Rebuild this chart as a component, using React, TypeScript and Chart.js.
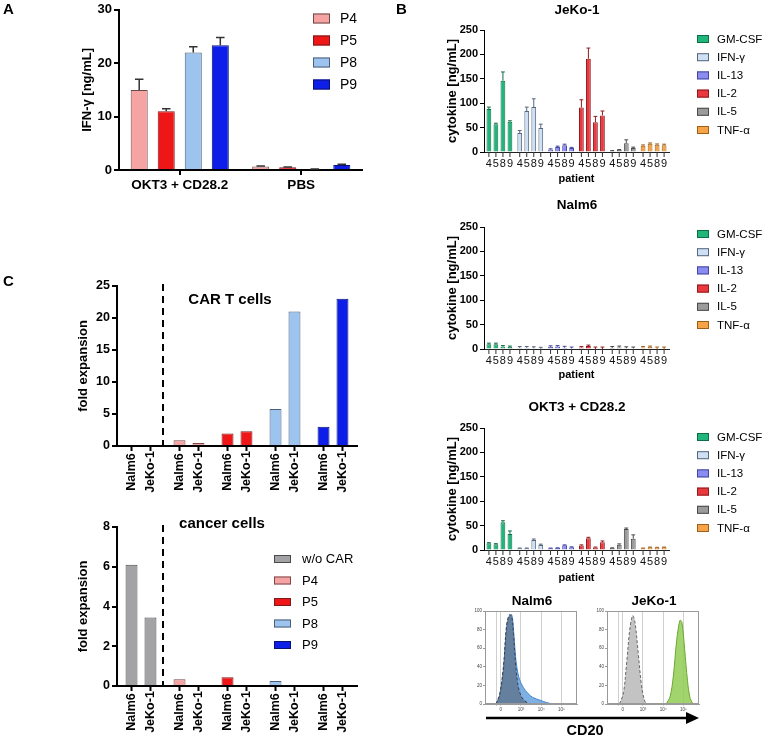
import React, { useEffect, useRef } from 'react';
import { Chart, registerables } from 'chart.js';
Chart.register(...registerables);

const FONT = "'Liberation Sans', Arial, Helvetica, sans-serif";

// ---------------- Panel A data ----------------
const aConditions = ['OKT3 + CD28.2', 'PBS'];
const aPatients = ['P4', 'P5', 'P8', 'P9'];
const aP4 = [15.0, 0.65];
const aP5 = [11.0, 0.5];
const aP8 = [22.0, 0.15];
const aP9 = [23.35, 0.95];
const aP4Err = [2.0, 0.1];
const aP5Err = [0.45, 0.08];
const aP8Err = [1.1, 0.05];
const aP9Err = [1.45, 0.15];

// ---------------- Panel B data ----------------
const cytokines = ['GM-CSF', 'IFN-γ', 'IL-13', 'IL-2', 'IL-5', 'TNF-α'];
const patientDigits = ['4', '5', '8', '9'];

const jekoP4 = [88, 39, 5, 91, 2, 13];
const jekoP5 = [57, 84, 10, 191, 4, 17];
const jekoP8 = [146, 92, 14, 61, 18, 15];
const jekoP9 = [62, 49, 8, 75, 8, 14];
const jekoP4Err = [4, 5, 1.5, 16, 1, 1.5];
const jekoP5Err = [2, 8, 2, 22, 1, 1.5];
const jekoP8Err = [18, 17, 2, 12, 7, 1.5];
const jekoP9Err = [2, 8, 1.5, 9, 2, 2];

const nalmP4 = [9.5, 2, 4.5, 3, 2, 3];
const nalmP5 = [9.5, 2, 5, 6, 3, 4];
const nalmP8 = [5, 1.5, 2.5, 0, 1.5, 0];
const nalmP9 = [4, 0.5, 1, 0, 1, 0];
const nalmP4Err = [2.5, 3, 2, 2, 3, 2];
const nalmP5Err = [2.5, 3, 2, 2, 3, 2];
const nalmP8Err = [2, 3, 3, 4, 3, 4];
const nalmP9Err = [2, 3, 3, 4, 3, 4];

const okt3P4 = [14, 3.5, 3.5, 9, 4, 3.5];
const okt3P5 = [12, 3.5, 4, 24, 11, 5.5];
const okt3P8 = [57, 20.5, 9.5, 5, 43, 5];
const okt3P9 = [33, 10, 5.5, 16, 23, 5.5];
const okt3P4Err = [1, 0.5, 0.5, 1.5, 0.5, 0.5];
const okt3P5Err = [1, 0.5, 0.5, 2, 1.5, 0.5];
const okt3P8Err = [3, 2, 1, 1, 2, 0.5];
const okt3P9Err = [6, 2, 1, 2.5, 8, 0.5];

// ---------------- Panel C data ----------------
const cGroups = ['w/o CAR', 'P4', 'P5', 'P8', 'P9'];
const cCellLines = ['Nalm6', 'JeKo-1'];
const carNalm6 = [0, 0.9, 1.95, 5.8, 3.0];
const carJeko = [0.15, 0.47, 2.3, 21.0, 23.0];
const cancerNalm6 = [6.1, 0.34, 0.44, 0.25, 0];
const cancerJeko = [3.45, 0, 0, 0, 0];

// ---------------- Flow histograms (CD20) ----------------
const histXTicks = [13, 17, 39, 61, 83];
const histXLabels = ['', '0', '10³', '10⁴', '10⁵'];
const nalmIsoX = [12, 16, 20, 23.5, 26.5, 29, 31, 33.5, 37, 41.5, 47, 52];
const nalmIsoY = [0, 11, 40, 85, 96, 94, 75, 40, 15, 5, 1, 0];
const nalmCd20X = [12, 16, 20, 23.5, 26.5, 29, 31, 33.5, 37, 41.5, 47, 52, 60, 67, 74];
const nalmCd20Y = [0, 9, 36, 82, 94, 96, 80, 48, 28, 18, 11, 7, 4, 1.5, 0];
const jekoIsoX = [13.6, 17.9, 21.4, 25, 27.9, 30.4, 33.9, 37.5, 41, 43.6];
const jekoIsoY = [0, 12, 45, 82, 95, 88, 55, 20, 3, 0];
const jekoCd20X = [64.3, 68.6, 72.1, 75.7, 79.3, 81.4, 84.3, 87.5, 90.4, 93.6];
const jekoCd20Y = [0, 8, 30, 68, 90, 88, 60, 25, 6, 0];

// ---------------- styles ----------------
const patientFill = ['#f6a3a3', '#ee1616', '#9dc3ef', '#0d1ee8'];
const patientStroke = ['#6b4a4a', '#7a1a1a', '#4d5f78', '#0a1070'];
const cytoFill = ['#20b57b', '#cfe0f4', '#8b8cf2', '#e9383e', '#9b9b9b', '#f7a347'];
const cytoStroke = ['#0d6e46', '#56677d', '#45469e', '#8e1b1f', '#4a4a4a', '#9e5f17'];
const groupFill = ['#a3a3a6', '#f6a3a3', '#ee1616', '#9dc3ef', '#0d1ee8'];
const groupStroke = ['#4a4a4a', '#7a4a4a', '#7a1a1a', '#4d5f78', '#0a1070'];

// ---------------- plugins ----------------
const errorBarsPlugin: any = {
  id: 'errorBars',
  afterDatasetsDraw(chart: any, _a: any, o: any) {
    if (!o || !o.enabled) return;
    const ctx = chart.ctx;
    const ys = chart.scales.y;
    chart.data.datasets.forEach((ds: any, i: number) => {
      const errs = ds.errors;
      if (!errs) return;
      const meta = chart.getDatasetMeta(i);
      meta.data.forEach((bar: any, j: number) => {
        const v = ds.data[j];
        const e = errs[j];
        if (e == null) return;
        const top = ys.getPixelForValue(v + e);
        const base = ys.getPixelForValue(v);
        const w = bar.width * o.capRatio;
        const col = o.color || (Array.isArray(ds.borderColor) ? ds.borderColor[j] : ds.borderColor);
        ctx.save();
        ctx.strokeStyle = col;
        ctx.lineWidth = o.lineWidth;
        ctx.beginPath();
        ctx.moveTo(bar.x, base);
        ctx.lineTo(bar.x, top);
        ctx.moveTo(bar.x - w / 2, top);
        ctx.lineTo(bar.x + w / 2, top);
        ctx.stroke();
        ctx.restore();
      });
    });
  },
};

const barTicksPlugin: any = {
  id: 'barTicks',
  afterDraw(chart: any, _a: any, o: any) {
    if (!o || !o.labels) return;
    const ctx = chart.ctx;
    const bottom = chart.chartArea.bottom;
    chart.data.datasets.forEach((_ds: any, i: number) => {
      const meta = chart.getDatasetMeta(i);
      meta.data.forEach((bar: any) => {
        ctx.save();
        ctx.strokeStyle = o.tickColor;
        ctx.lineWidth = o.tickWidth;
        ctx.beginPath();
        ctx.moveTo(bar.x, bottom);
        ctx.lineTo(bar.x, bottom + o.tickLength);
        ctx.stroke();
        ctx.fillStyle = o.color;
        ctx.font = o.font;
        ctx.textAlign = 'center';
        ctx.textBaseline = 'middle';
        if (o.rotate) {
          ctx.translate(bar.x, bottom + o.offset);
          ctx.rotate(-Math.PI / 2);
          ctx.fillText(o.labels[i], 0, 0);
        } else {
          ctx.fillText(o.labels[i], bar.x, bottom + o.offset);
        }
        ctx.restore();
      });
    });
  },
};

const boxLegendPlugin: any = {
  id: 'boxLegend',
  afterDraw(chart: any, _a: any, o: any) {
    if (!o || !o.items) return;
    const ctx = chart.ctx;
    const n = o.items.length;
    for (let k = 0; k < n; k++) {
      const it = o.items[k];
      const cy = o.y + k * o.spacing;
      ctx.save();
      ctx.fillStyle = it.fill;
      ctx.fillRect(o.x, cy - o.boxH / 2, o.boxW, o.boxH);
      ctx.strokeStyle = it.stroke;
      ctx.lineWidth = 1;
      ctx.strokeRect(o.x + 0.5, cy - o.boxH / 2 + 0.5, o.boxW - 1, o.boxH - 1);
      ctx.fillStyle = '#000';
      ctx.font = o.font;
      ctx.textAlign = 'left';
      ctx.textBaseline = 'middle';
      ctx.fillText(it.text, o.textX, cy + 0.5);
      ctx.restore();
    }
  },
};

const textsPlugin: any = {
  id: 'texts',
  afterDraw(chart: any, _a: any, o: any) {
    if (!o || !o.items) return;
    const ctx = chart.ctx;
    const n = o.items.length;
    for (let k = 0; k < n; k++) {
      const t = o.items[k];
      ctx.save();
      ctx.font = t.font;
      ctx.fillStyle = '#000';
      ctx.textAlign = 'center';
      ctx.textBaseline = 'middle';
      ctx.fillText(t.text, t.x, t.y);
      ctx.restore();
    }
  },
};

const dividerPlugin: any = {
  id: 'divider',
  afterDraw(chart: any, _a: any, o: any) {
    if (!o || o.after == null) return;
    const xs = chart.scales.x;
    const px = (xs.getPixelForValue(o.after) + xs.getPixelForValue(o.after + 1)) / 2 - 2;
    const ctx = chart.ctx;
    ctx.save();
    ctx.strokeStyle = '#000';
    ctx.lineWidth = 2;
    ctx.setLineDash([7, 5]);
    ctx.beginPath();
    ctx.moveTo(px, chart.chartArea.top - 2);
    ctx.lineTo(px, chart.chartArea.bottom);
    ctx.stroke();
    ctx.restore();
  },
};

const framePlugin: any = {
  id: 'frame',
  afterDraw(chart: any) {
    const { left, top, right, bottom } = chart.chartArea;
    const ctx = chart.ctx;
    ctx.save();
    ctx.strokeStyle = '#9a9a9a';
    ctx.lineWidth = 1;
    ctx.strokeRect(left + 0.5, top + 0.5, right - left - 1, bottom - top - 1);
    ctx.restore();
  },
};

// ---------------- helpers ----------------
function font(size: number, bold = true) {
  return { family: FONT, size, weight: bold ? 'bold' : 'normal' } as any;
}
function fontStr(size: number, bold = true) {
  return `${bold ? 'bold ' : ''}${size}px ${FONT}`;
}

function yAxis(min: number, max: number, step: number, title: string, titleCenter: number, width: number, tickSize: number, lw: number, tickLen: number) {
  return {
    min,
    max,
    ticks: { stepSize: step, font: font(tickSize), color: '#000', padding: 2 },
    grid: { drawOnChartArea: false, drawTicks: true, tickLength: tickLen, color: '#000', lineWidth: lw },
    border: { display: true, color: '#000', width: lw },
    title: { display: true, text: title, font: font(13), color: '#000', padding: { top: titleCenter - 7.8, bottom: 0 } },
    afterFit: (s: any) => { s.width = width; },
  };
}

const baseOptions = { responsive: false, animation: false, devicePixelRatio: 1, maintainAspectRatio: false };

// ---------------- configs ----------------
function configA() {
  const vals = [aP4, aP5, aP8, aP9];
  const errs = [aP4Err, aP5Err, aP8Err, aP9Err];
  return {
    type: 'bar',
    data: {
      labels: aConditions,
      datasets: aPatients.map((p, i) => ({
        label: p, data: vals[i], errors: errs[i],
        backgroundColor: patientFill[i], borderColor: patientStroke[i], borderWidth: 1,
        categoryPercentage: 0.89, barPercentage: 0.63,
      })),
    },
    options: {
      ...baseOptions,
      layout: { padding: { left: 0, right: 22, top: 9, bottom: 0 } },
      plugins: {
        legend: { display: false }, tooltip: { enabled: false },
        errorBars: { enabled: true, capRatio: 0.5, lineWidth: 1.5, color: '#333' },
        boxLegend: {
          x: 313, y: 18.5, spacing: 22, boxW: 17, boxH: 10, textX: 340, font: fontStr(14, false),
          items: aPatients.map((p, i) => ({ text: p, fill: patientFill[i], stroke: patientStroke[i] })),
        },
      },
      scales: {
        x: {
          ticks: { font: font(13.5), color: '#000', padding: 2 },
          grid: { offset: false, drawOnChartArea: false, drawTicks: true, tickLength: 5, color: '#000', lineWidth: 2 },
          border: { display: true, color: '#000', width: 2 },
          afterFit: (s: any) => { s.height = 25; },
        },
        y: yAxis(0, 30, 10, 'IFN-γ [ng/mL]', 87, 119, 13, 2, 5),
      },
    },
    plugins: [errorBarsPlugin, boxLegendPlugin],
  };
}

function configB(title: string, vals: number[][], errs: number[][], padTop: number, xHeight: number, titleY: number, legendY: number) {
  return {
    type: 'bar',
    data: {
      labels: cytokines,
      datasets: patientDigits.map((p, i) => ({
        label: p, data: vals[i], errors: errs[i],
        backgroundColor: cytoFill, borderColor: cytoStroke, borderWidth: 1,
        categoryPercentage: 0.91, barPercentage: 0.68,
      })),
    },
    options: {
      ...baseOptions,
      layout: { padding: { left: 0, right: 99, top: padTop, bottom: 0 } },
      plugins: {
        legend: { display: false }, tooltip: { enabled: false },
        errorBars: { enabled: true, capRatio: 0.8, lineWidth: 1 },
        barTicks: { labels: patientDigits, tickLength: 5, tickWidth: 1, tickColor: '#333', color: '#111', font: fontStr(11, false), offset: 12, rotate: false },
        boxLegend: {
          x: 313, y: legendY, spacing: 18.2, boxW: 12, boxH: 8, textX: 333, font: fontStr(11.5, false),
          items: cytokines.map((c, i) => ({ text: c, fill: cytoFill[i], stroke: cytoStroke[i] })),
        },
        texts: { items: [{ text: title, x: 193, y: titleY, font: fontStr(13.5) }] },
      },
      scales: {
        x: {
          ticks: { display: false },
          grid: { display: false },
          border: { display: true, color: '#222', width: 1 },
          title: { display: true, text: 'patient', font: font(11), color: '#000', padding: { top: 0, bottom: 3.4 } },
          afterFit: (s: any) => { s.height = xHeight; },
        },
        y: yAxis(0, 250, 50, 'cytokine [ng/mL]', 68, 100, 11, 1, 4),
      },
    },
    plugins: [errorBarsPlugin, barTicksPlugin, boxLegendPlugin, textsPlugin],
  };
}

function configC(vals: number[][], max: number, step: number, padTop: number, xHeight: number, title: string, titleX: number, titleY: number, withLegend: boolean) {
  return {
    type: 'bar',
    data: {
      labels: cGroups,
      datasets: cCellLines.map((c, i) => ({
        label: c, data: vals[i],
        backgroundColor: groupFill, borderColor: groupStroke, borderWidth: 1,
        categoryPercentage: 0.79, barPercentage: 0.63,
      })),
    },
    options: {
      ...baseOptions,
      layout: { padding: { left: 0, right: 27, top: padTop, bottom: 0 } },
      plugins: {
        legend: { display: false }, tooltip: { enabled: false },
        barTicks: { labels: cCellLines, tickLength: 5, tickWidth: 2, tickColor: '#000', color: '#000', font: fontStr(12.5), offset: 26, rotate: true },
        divider: { after: 0 },
        texts: { items: [{ text: title, x: titleX, y: titleY, font: fontStr(15) }] },
        boxLegend: withLegend ? {
          x: 274, y: 54, spacing: 21.5, boxW: 17, boxH: 8, textX: 302, font: fontStr(13, false),
          items: cGroups.map((g, i) => ({ text: g, fill: groupFill[i], stroke: groupStroke[i] })),
        } : {},
      },
      scales: {
        x: {
          ticks: { display: false },
          grid: { display: false },
          border: { display: true, color: '#000', width: 2 },
          afterFit: (s: any) => { s.height = xHeight; },
        },
        y: yAxis(0, max, step, 'fold expansion', 83, 117, 12.5, 2, 5),
      },
    },
    plugins: [barTicksPlugin, dividerPlugin, textsPlugin, boxLegendPlugin],
  };
}

function configHist(title: string, series: any[]) {
  return {
    type: 'line',
    data: {
      datasets: series.map((s) => ({
        data: s.x.map((x: number, i: number) => ({ x, y: s.y[i] })),
        fill: 'origin', backgroundColor: s.fill, borderColor: s.stroke, borderWidth: 1,
        borderDash: s.dash, pointRadius: 0, tension: 0.35,
      })),
    },
    options: {
      ...baseOptions,
      layout: { padding: { left: 0, right: 8, top: 19, bottom: 0 } },
      plugins: {
        legend: { display: false }, tooltip: { enabled: false },
        texts: { items: [{ text: title, x: 72, y: 9, font: fontStr(13.5) }] },
      },
      scales: {
        x: {
          type: 'linear', min: 0, max: 100,
          afterBuildTicks: (s: any) => { s.ticks = histXTicks.map((v) => ({ value: v })); },
          ticks: { callback: (_v: any, i: number) => histXLabels[i], font: { family: FONT, size: 4.5 }, color: '#444', padding: 1, maxRotation: 0, autoSkip: false },
          grid: { color: '#c4c4c4', lineWidth: 0.8, drawTicks: true, tickLength: 2 },
          border: { display: true, color: '#9a9a9a' },
          afterFit: (s: any) => { s.height = 13; },
        },
        y: {
          min: 0, max: 100,
          ticks: { stepSize: 20, font: { family: FONT, size: 4.5 }, color: '#444', padding: 1 },
          grid: { drawOnChartArea: false, drawTicks: true, tickLength: 2, color: '#9a9a9a' },
          border: { display: true, color: '#9a9a9a' },
          afterFit: (s: any) => { s.width = 25; },
        },
      },
    },
    plugins: [framePlugin, textsPlugin],
  };
}

// ---------------- components ----------------
function ChartBox({ left, top, width, height, make }: any) {
  const ref = useRef<HTMLCanvasElement>(null);
  useEffect(() => {
    const chart = new Chart(ref.current as any, make() as any);
    return () => chart.destroy();
  }, []);
  return (
    <div style={{ position: 'absolute', left, top, width, height }}>
      <canvas ref={ref} width={width} height={height} style={{ width, height, display: 'block' }} />
    </div>
  );
}

function Label({ x, y, text, size }: any) {
  return (
    <div style={{ position: 'absolute', left: x, top: y - size / 2, fontFamily: FONT, fontWeight: 'bold', fontSize: size, lineHeight: `${size}px`, whiteSpace: 'nowrap' }}>{text}</div>
  );
}

export default function App() {
  return (
    <div style={{ position: 'absolute', left: 0, top: 0, width: 768, height: 737, background: '#fff', overflow: 'hidden' }}>
      <ChartBox left={0} top={0} width={384} height={195} make={configA} />
      <ChartBox left={384} top={0} width={384} height={189}
        make={() => configB('JeKo-1', [jekoP4, jekoP5, jekoP8, jekoP9], [jekoP4Err, jekoP5Err, jekoP8Err, jekoP9Err], 30, 37, 10, 39)} />
      <ChartBox left={384} top={192} width={384} height={193}
        make={() => configB('Nalm6', [nalmP4, nalmP5, nalmP8, nalmP9], [nalmP4Err, nalmP5Err, nalmP8Err, nalmP9Err], 35, 36, 13, 42)} />
      <ChartBox left={384} top={392} width={384} height={196}
        make={() => configB('OKT3 + CD28.2', [okt3P4, okt3P5, okt3P8, okt3P9], [okt3P4Err, okt3P5Err, okt3P8Err, okt3P9Err], 36, 38, 15, 45)} />
      <ChartBox left={0} top={270} width={384} height={230}
        make={() => configC([carNalm6, carJeko], 25, 5, 16, 54, 'CAR T cells', 230, 30, false)} />
      <ChartBox left={0} top={505} width={384} height={232}
        make={() => configC([cancerNalm6, cancerJeko], 8, 2, 22, 51, 'cancer cells', 222, 19, true)} />
      <ChartBox left={460} top={592} width={125} height={125}
        make={() => configHist('Nalm6', [
          { x: nalmIsoX, y: nalmIsoY, fill: 'rgba(85,95,112,0.6)', stroke: '#3a3f48', dash: [3, 2] },
          { x: nalmCd20X, y: nalmCd20Y, fill: 'rgba(104,162,222,0.85)', stroke: '#3d86cf', dash: [] },
        ])} />
      <ChartBox left={582} top={592} width={125} height={125}
        make={() => configHist('JeKo-1', [
          { x: jekoIsoX, y: jekoIsoY, fill: 'rgba(188,188,188,0.9)', stroke: '#666', dash: [3, 2] },
          { x: jekoCd20X, y: jekoCd20Y, fill: 'rgba(146,204,84,0.85)', stroke: '#6aa830', dash: [] },
        ])} />
      <svg width={768} height={737} style={{ position: 'absolute', left: 0, top: 0, pointerEvents: 'none' }}>
        <line x1={486} y1={718} x2={688} y2={718} stroke="#000" strokeWidth={2.5} />
        <polygon points="686,712 699,718 686,724" fill="#000" />
      </svg>
      <div style={{ position: 'absolute', left: 545, top: 722, width: 80, textAlign: 'center', fontFamily: FONT, fontWeight: 'bold', fontSize: 14.5, lineHeight: '16px' }}>CD20</div>
      <Label x={3} y={8} text="A" size={15} />
      <Label x={396} y={8} text="B" size={15} />
      <Label x={3} y={280} text="C" size={15} />
    </div>
  );
}
